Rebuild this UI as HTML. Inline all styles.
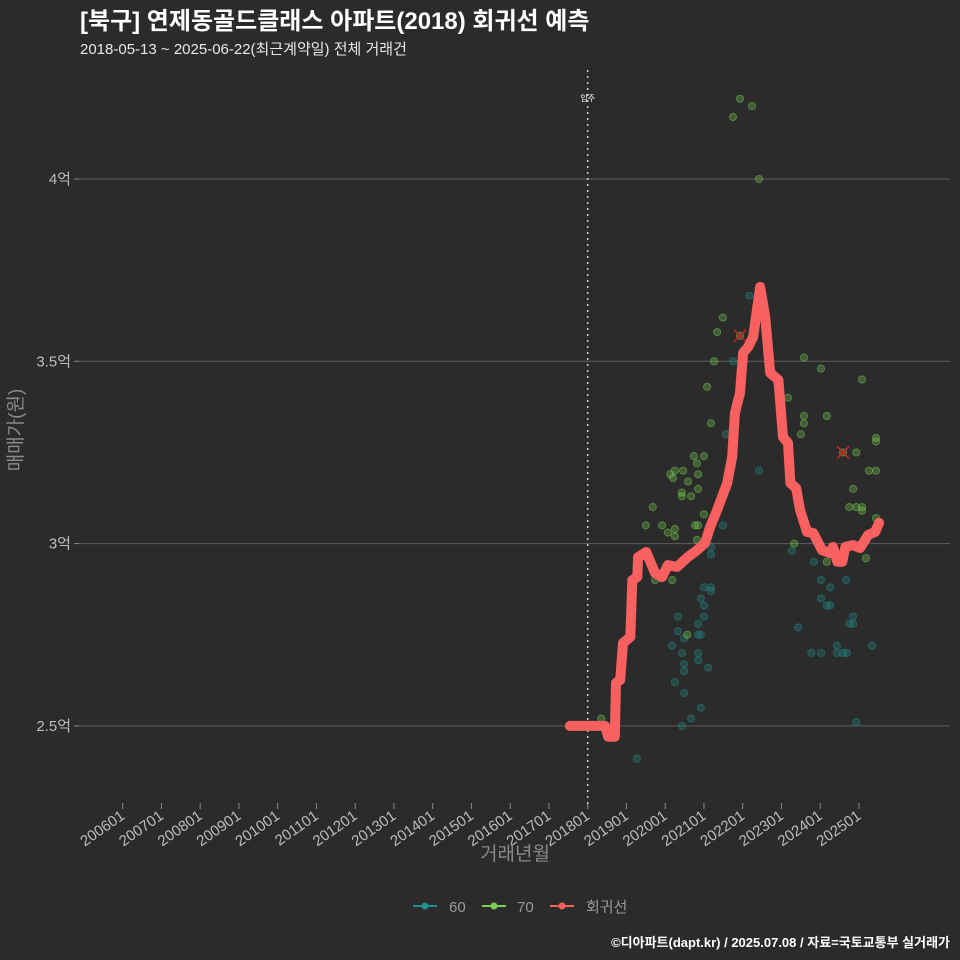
<!DOCTYPE html>
<html><head><meta charset="utf-8">
<style>
html,body{margin:0;padding:0;background:#2b2b2c;}
svg{display:block;font-family:"Liberation Sans","Noto Sans CJK KR",sans-serif;}
</style></head>
<body>
<svg id="chart" width="960" height="960" viewBox="0 0 960 960">
<rect width="960" height="960" fill="#2b2b2c"/>
<text x="80" y="29" fill="#ffffff" font-size="24" font-weight="bold">[북구] 연제동골드클래스 아파트(2018) 회귀선 예측</text>
<text x="80" y="54" fill="#e8e8e8" font-size="15">2018-05-13 ~ 2025-06-22(최근계약일) 전체 거래건</text>
<g id="grid"></g>
<g id="yaxis"></g>
<g id="xaxis"></g>
<g id="marks"></g>
<text transform="translate(22,430) rotate(-90)" text-anchor="middle" fill="#8a8a8a" font-size="19">매매가(원)</text>
<text x="515" y="860" text-anchor="middle" fill="#8a8a8a" font-size="19">거래년월</text>
<g>
 <g>
  <line x1="413" y1="906" x2="437" y2="906" stroke="#21908c" stroke-width="2"/><circle cx="425" cy="906" r="3.5" fill="#21908c"/>
  <text x="449" y="912" fill="#9a9a9a" font-size="15">60</text></g>
 <g>
  <line x1="482" y1="906" x2="506" y2="906" stroke="#7ad151" stroke-width="2"/><circle cx="494" cy="906" r="3.5" fill="#7ad151"/>
  <text x="517" y="912" fill="#9a9a9a" font-size="15">70</text></g>
 <g>
  <line x1="550" y1="906" x2="574" y2="906" stroke="#f8615f" stroke-width="2"/><circle cx="562" cy="906" r="3.5" fill="#f8615f"/>
  <text x="586" y="912" fill="#9a9a9a" font-size="15">회귀선</text></g>
</g>
<text x="950" y="947" text-anchor="end" fill="#ffffff" font-size="13" font-weight="bold">©디아파트(dapt.kr) / 2025.07.08 / 자료=국토교통부 실거래가</text>
</svg>
<script>
const yTicks=[2.5,3,3.5,4];
const yTickLabels=["2.5억","3억","3.5억","4억"];
const xTickYears=[2006,2007,2008,2009,2010,2011,2012,2013,2014,2015,2016,2017,2018,2019,2020,2021,2022,2023,2024,2025];
const xTickLabels=["200601","200701","200801","200901","201001","201101","201201","201301","201401","201501","201601","201701","201801","201901","202001","202101","202201","202301","202401","202501"];
const moveInYear=2018;
const g60Dates=[2022.17,2021.75,2021.57,2022.42,2021.49,2021.18,2021.18,2021.00,2021.18,2021.18,2020.92,2021.00,2020.33,2021.00,2020.85,2020.33,2020.85,2020.92,2020.49,2020.18,2020.43,2020.85,2020.49,2020.49,2020.85,2021.11,2020.25,2020.49,2020.92,2020.67,2020.43,2019.27,2023.27,2023.84,2024.02,2024.26,2024.67,2024.02,2024.17,2024.26,2023.43,2024.85,2024.75,2024.85,2023.77,2024.02,2024.43,2024.43,2024.59,2024.69,2025.34,2024.93];
const g60Prices=[3.68,3.50,3.30,3.20,3.05,2.99,2.97,2.88,2.88,2.87,2.85,2.83,2.80,2.80,2.78,2.76,2.75,2.75,2.74,2.72,2.70,2.70,2.67,2.65,2.68,2.66,2.62,2.59,2.55,2.52,2.50,2.41,2.98,2.95,2.90,2.88,2.90,2.85,2.83,2.83,2.77,2.80,2.78,2.78,2.70,2.70,2.72,2.70,2.70,2.70,2.72,2.51];
const g70Dates=[2021.49,2021.34,2021.26,2021.08,2021.18,2020.74,2021.00,2020.82,2020.13,2020.25,2020.46,2020.20,2020.85,2020.59,2020.85,2020.43,2020.43,2020.67,2019.68,2021.00,2019.50,2019.92,2020.77,2020.85,2020.25,2020.07,2020.25,2020.82,2019.74,2020.18,2020.57,2018.35,2023.58,2024.02,2025.08,2023.17,2023.58,2023.58,2024.17,2023.50,2024.93,2025.44,2025.44,2025.26,2025.44,2024.85,2024.75,2024.93,2025.08,2025.08,2025.44,2023.33,2024.17,2025.18,2021.75,2021.93,2022.24,2022.42,2021.93,2024.59];
const g70Prices=[3.62,3.58,3.50,3.43,3.33,3.24,3.24,3.22,3.19,3.20,3.20,3.18,3.19,3.17,3.15,3.14,3.13,3.13,3.10,3.08,3.05,3.05,3.05,3.05,3.04,3.03,3.02,3.01,2.90,2.90,2.75,2.52,3.51,3.48,3.45,3.40,3.35,3.33,3.35,3.30,3.25,3.29,3.28,3.20,3.20,3.15,3.10,3.10,3.10,3.09,3.07,3.00,2.95,2.96,4.17,4.22,4.20,4.00,3.57,3.25];
const regDates=[2017.54,2018.45,2018.53,2018.70,2018.73,2018.84,2018.91,2019.10,2019.15,2019.28,2019.30,2019.51,2019.74,2019.92,2020.07,2020.31,2020.56,2020.82,2021.03,2021.16,2021.34,2021.60,2021.73,2021.80,2021.93,2022.01,2022.14,2022.27,2022.45,2022.58,2022.71,2022.92,2023.04,2023.17,2023.23,2023.38,2023.48,2023.66,2023.82,2024.05,2024.26,2024.33,2024.44,2024.57,2024.65,2024.85,2025.03,2025.24,2025.42,2025.52];
const regPrices=[2.50,2.50,2.47,2.47,2.618,2.626,2.727,2.744,2.900,2.908,2.963,2.977,2.919,2.908,2.941,2.936,2.961,2.982,3.002,3.046,3.092,3.166,3.238,3.358,3.413,3.523,3.539,3.567,3.704,3.622,3.468,3.449,3.292,3.276,3.166,3.152,3.092,3.032,3.029,2.982,2.974,2.991,2.950,2.950,2.991,2.996,2.988,3.024,3.032,3.057];
const outlierDates=[2021.93,2024.59];
const outlierPrices=[3.57,3.25];

const X=d=>122.7+(d-2006)*38.75;
const Y=v=>179+(4-v)*364.6;
const NS="http://www.w3.org/2000/svg";
function mk(tag,attrs,parent){const e=document.createElementNS(NS,tag);for(const k in attrs)e.setAttribute(k,attrs[k]);parent.appendChild(e);return e;}
const grid=document.getElementById('grid'),ya=document.getElementById('yaxis'),xa=document.getElementById('xaxis'),marks=document.getElementById('marks');
yTicks.forEach((t,i)=>{
  const l=mk('line',{x1:79,x2:950,y1:Y(t),y2:Y(t),stroke:'#5e5e5e','stroke-width':1},grid);
  
  
  mk('line',{x1:74,x2:79,y1:Y(t),y2:Y(t),stroke:'#8a8a8a'},ya);
  const tx=mk('text',{x:71,y:Y(t)+5,'text-anchor':'end',fill:'#bdbdbd','font-size':15},ya);
  tx.textContent=yTickLabels[i];
  
  
});
xTickYears.forEach((yr,i)=>{
  const x=X(yr);
  mk('line',{x1:x,x2:x,y1:803,y2:809,stroke:'#8a8a8a'},xa);
  const tx=mk('text',{x:0,y:0,'text-anchor':'end',fill:'#bdbdbd','font-size':15,transform:`translate(${x+3},${818}) rotate(-35)`},xa);
  tx.textContent=xTickLabels[i];
  
  
});
const mv=mk('line',{x1:X(moveInYear),x2:X(moveInYear),y1:70,y2:805,stroke:'#d0d0d0','stroke-width':1.5,'stroke-dasharray':'2,4'},marks);


const mvt=mk('text',{x:X(moveInYear),y:101,'text-anchor':'middle',fill:'#ffffff','font-size':8},marks);
mvt.textContent='입주';


g60Dates.forEach((d,i)=>{
  const c=mk('circle',{cx:X(d),cy:Y(g60Prices[i]),r:3.6,fill:'#21908c','fill-opacity':0.3,stroke:'#21908c','stroke-opacity':0.45},marks);
  
  
});
g70Dates.forEach((d,i)=>{
  const c=mk('circle',{cx:X(d),cy:Y(g70Prices[i]),r:3.6,fill:'#7ad151','fill-opacity':0.3,stroke:'#7ad151','stroke-opacity':0.45},marks);
  
  
});
outlierDates.forEach((d,i)=>{
  const x=X(d),y=Y(outlierPrices[i]);
  const g=mk('g',{},marks);
  
  
  mk('line',{x1:x-6,y1:y-6,x2:x+6,y2:y+6,stroke:'#d42020','stroke-width':1.5},g);
  mk('line',{x1:x-6,y1:y+6,x2:x+6,y2:y-6,stroke:'#d42020','stroke-width':1.5},g);
});
const pts=regDates.map((d,i)=>X(d).toFixed(1)+','+Y(regPrices[i]).toFixed(1)).join(' ');
const rl=mk('polyline',{points:pts,fill:'none',stroke:'#f8615f','stroke-width':10,'stroke-linejoin':'round','stroke-linecap':'round'},marks);


</script>
</body></html>
